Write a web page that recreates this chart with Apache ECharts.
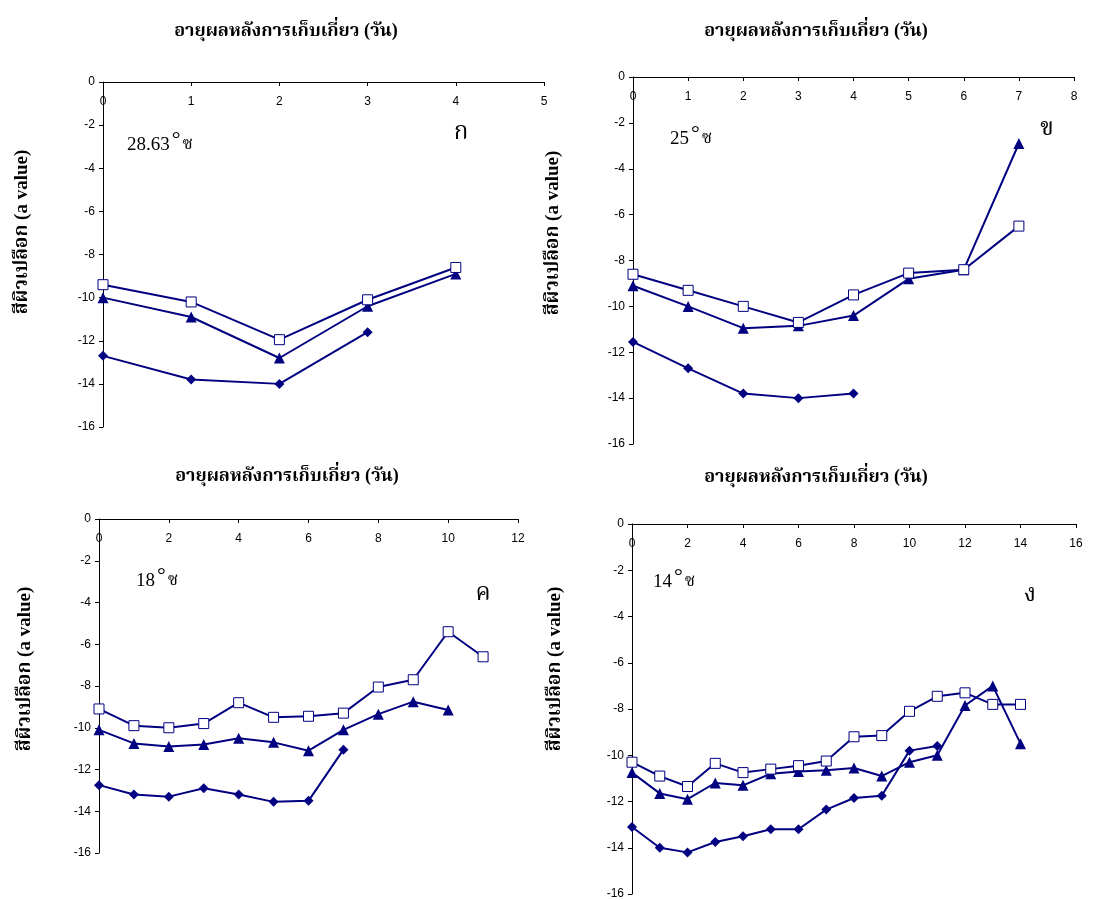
<!DOCTYPE html>
<html>
<head>
<meta charset="utf-8">
<script src="https://cdn.jsdelivr.net/npm/echarts@6/dist/echarts.min.js"></script>
<style>
  html, body { margin: 0; padding: 0; background: #fff; }
  #chart { width: 1107px; height: 900px; }
</style>
</head>
<body>
<div id="chart"></div>
<script>
// Panel ก : 28.63 °C
const daysA = [0, 1, 2, 3, 4];
const squareA = [-9.4, -10.2, -11.95, -10.1, -8.6];
const triangleA = [-10.0, -10.9, -12.8, -10.4, -8.9];
const diamondA = [-12.7, -13.8, -14.0, -11.6];

// Panel ข : 25 °C
const daysB = [0, 1, 2, 3, 4, 5, 6, 7];
const squareB = [-8.6, -9.3, -10.0, -10.7, -9.5, -8.55, -8.4, -6.5];
const triangleB = [-9.1, -10.0, -10.95, -10.85, -10.4, -8.8, -8.4, -2.9];
const diamondB = [-11.55, -12.7, -13.8, -14.0, -13.8];

// Panel ค : 18 °C
const daysC = [0, 1, 2, 3, 4, 5, 6, 7, 8, 9, 10, 11];
const squareC = [-9.1, -9.9, -10.0, -9.8, -8.8, -9.5, -9.45, -9.3, -8.05, -7.7, -5.4, -6.6];
const triangleC = [-10.1, -10.75, -10.9, -10.8, -10.5, -10.7, -11.1, -10.1, -9.35, -8.75, -9.15];
const diamondC = [-12.75, -13.2, -13.3, -12.9, -13.2, -13.55, -13.5, -11.05];

// Panel ง : 14 °C
const daysD = [0, 1, 2, 3, 4, 5, 6, 7, 8, 9, 10, 11, 12, 13, 14];
const squareD = [-10.3, -10.9, -11.35, -10.35, -10.75, -10.6, -10.45, -10.25, -9.2, -9.15, -8.1, -7.45, -7.3, -7.8, -7.8];
const triangleD = [-10.75, -11.65, -11.9, -11.2, -11.3, -10.8, -10.7, -10.65, -10.55, -10.9, -10.3, -10.0, -7.85, -7.0, -9.5];
const diamondD = [-13.1, -14.0, -14.2, -13.75, -13.5, -13.2, -13.2, -12.35, -11.85, -11.75, -9.8, -9.6];

// Axis ranges
const xMaxA = 5, xStepA = 1;
const xMaxB = 8, xStepB = 1;
const xMaxC = 12, xStepC = 2;
const xMaxD = 16, xStepD = 2;
const yMin = -16, yMax = 0, yStep = 2;

// Texts
const xTitle = 'อายุผลหลังการเก็บเกี่ยว (วัน)';
const yTitle = 'สีผิวเปลือก (a value)';
const temps = ['28.63', '25', '18', '14'];
const panelTags = ['ก', 'ข', 'ค', 'ง'];

const NAVY = '#000080';
const THAI = "'Liberation Serif', 'Times New Roman', 'Noto Serif Thai', 'Noto Sans Thai', serif";
const SANS = "'Liberation Sans', Arial, sans-serif";

const pair = (days, vals) => vals.map((v, i) => [days[i], v]);

const grids = [
  { left: 103, top: 82, width: 441, height: 345 },
  { left: 633, top: 77, width: 441, height: 367 },
  { left: 99, top: 519, width: 419, height: 334 },
  { left: 632, top: 524, width: 444, height: 370 }
];

const xSpecs = [[xMaxA, xStepA], [xMaxB, xStepB], [xMaxC, xStepC], [xMaxD, xStepD]];

const xAxes = xSpecs.map(([mx, st], i) => ({
  type: 'value', gridIndex: i, position: 'top',
  min: 0, max: mx, interval: st,
  axisLine: { show: true, onZero: false, lineStyle: { color: '#000', width: 1 } },
  axisTick: { show: true, inside: true, length: 4, lineStyle: { color: '#000' } },
  axisLabel: { inside: true, margin: 14, color: '#000', fontSize: 12, fontFamily: SANS },
  splitLine: { show: false }
}));

const yAxes = grids.map((g, i) => ({
  type: 'value', gridIndex: i,
  min: yMin, max: yMax, interval: yStep,
  axisLine: { show: true, onZero: false, lineStyle: { color: '#000', width: 1 } },
  axisTick: { show: true, length: 4, lineStyle: { color: '#000' } },
  axisLabel: { margin: 8, color: '#000', fontSize: 12, fontFamily: SANS },
  splitLine: { show: false }
}));

const sets = [
  [daysA, squareA, triangleA, diamondA],
  [daysB, squareB, triangleB, diamondB],
  [daysC, squareC, triangleC, diamondC],
  [daysD, squareD, triangleD, diamondD]
];

const series = [];
sets.forEach(([d, sq, tr, di], i) => {
  const base = {
    type: 'line', xAxisIndex: i, yAxisIndex: i,
    lineStyle: { color: NAVY, width: 2 },
    animation: false, silent: true
  };
  series.push(Object.assign({}, base, {
    data: pair(d, di), symbol: 'diamond', symbolSize: 10,
    itemStyle: { color: NAVY }
  }));
  series.push(Object.assign({}, base, {
    data: pair(d, tr), symbol: 'triangle', symbolSize: 11,
    itemStyle: { color: NAVY }
  }));
  series.push(Object.assign({}, base, {
    data: pair(d, sq), symbol: 'rect', symbolSize: 10,
    itemStyle: { color: '#fff', borderColor: NAVY, borderWidth: 1 }
  }));
});

// Titles, rotated y names, temperature notes and panel tags
const titlePos = [[286, 31], [816, 31], [287, 476], [816, 477]];
const yNamePos = [[22, 232], [553, 233], [25, 669], [555, 669]];
const tempPos = [[127, 145], [670, 139], [136, 581], [653, 582]];
const tagPos = [[461, 133], [1047, 129], [483, 594], [1030, 595]];

const graphics = [];
titlePos.forEach(([x, y]) => graphics.push({
  type: 'text', x, y,
  style: { text: xTitle, fill: '#000', font: `bold 18px ${THAI}`, textAlign: 'center', textVerticalAlign: 'middle' }
}));
yNamePos.forEach(([x, y]) => graphics.push({
  type: 'text', x, y, rotation: Math.PI / 2,
  style: { text: yTitle, fill: '#000', font: `bold 19px ${THAI}`, textAlign: 'center', textVerticalAlign: 'middle' }
}));
tempPos.forEach(([x, y], i) => graphics.push({
  type: 'text', x, y,
  style: {
    text: `{n|${temps[i]}}{d|°}{c|ซ}`,
    textVerticalAlign: 'middle',
    rich: {
      n: { fontSize: 19, fontFamily: THAI, fill: '#000' },
      d: { fontSize: 22, fontFamily: THAI, fill: '#000', padding: [0, 2, 10, 2] },
      c: { fontSize: 17, fontFamily: THAI, fill: '#000' }
    }
  }
}));
tagPos.forEach(([x, y], i) => graphics.push({
  type: 'text', x, y,
  style: { text: panelTags[i], fill: '#000', font: `24px ${THAI}`, textAlign: 'center', textVerticalAlign: 'middle' }
}));

const chart = echarts.init(document.getElementById('chart'), null, { renderer: 'canvas' });
chart.setOption({
  backgroundColor: '#fff',
  animation: false,
  grid: grids,
  xAxis: xAxes,
  yAxis: yAxes,
  series,
  graphic: graphics
});
</script>
</body>
</html>
